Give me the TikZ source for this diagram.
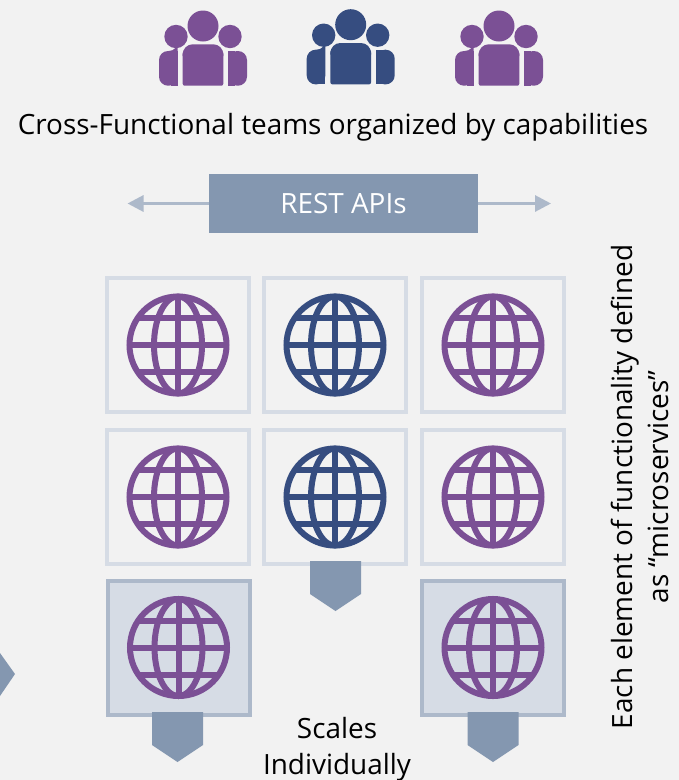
\documentclass[tikz,border=0pt]{standalone}
\usepackage{fontspec}
\setmainfont{Open Sans}
\definecolor{bgcol}{HTML}{F2F2F2}
\definecolor{purplecol}{HTML}{7B5095}
\definecolor{navycol}{HTML}{364D80}
\definecolor{slatecol}{HTML}{8497B0}
\definecolor{paleslate}{HTML}{ADB9CA}
\definecolor{palecol}{HTML}{D6DCE5}
\usetikzlibrary{arrows.meta}
\tikzset{
    cellbox/.style={draw=palecol, line width=4pt, minimum width=142pt, minimum height=134pt, inner sep=0pt},
    scaledbox/.style={cellbox, draw=paleslate, fill=palecol},
    restbox/.style={fill=slatecol, text=white, minimum width=269pt, minimum height=59pt, inner sep=0pt, font=\fontsize{27.9}{33}\selectfont},
    restline/.style={draw=paleslate, line width=3pt, -{Triangle[length=16pt, width=16pt]}},
    caption/.style={font=\fontsize{27.9}{35.5}\selectfont, align=center, inner sep=0pt},
    pics/globe/.style={code={
        \draw[#1, line width=6pt] (0,0) circle (48.5);
        \draw[#1, line width=6pt] (0,0) ellipse (24 and 48.5);
        \draw[#1, line width=6pt] (0,-48.5)--(0,48.5);
        \draw[#1, line width=6pt] (-48.5,0)--(48.5,0);
        \draw[#1, line width=6pt] (-40,-27)--(40,-27);
        \draw[#1, line width=6pt] (-40,27)--(40,27);
    }},
    pics/team/.style={code={
        \fill[#1] (0,0) circle (15.5);
        \fill[#1] (-27,10.5) circle (11.7);
        \fill[#1] (27,10.5) circle (11.7);
        \fill[#1, rounded corners=10pt] (-20.3,30)--(-20.3,18.3)--(20.3,18.3)--(20.3,30);
        \fill[#1, rounded corners=2pt] (-20.3,25)--(-20.3,59.7)--(20.3,59.7)--(20.3,25)--cycle;
        \fill[#1, rounded corners=9pt] (-25.3,25)--(-25.3,25)--(-44,25)--(-44,59.7)--(-25.3,59.7)--cycle;
        \fill[#1, rounded corners=9pt] (25.3,25)--(44,25)--(44,59.7)--(25.3,59.7)--cycle;
        \fill[#1] (-25.3,25) rectangle (-32,59.7);
        \fill[#1] (25.3,25) rectangle (32,59.7);
    }},
}
\newcommand{\scalearrow}[3]{\fill[slatecol] (#1-25.5,#2)--(#1+25.5,#2)--(#1+25.5,#3-17)--(#1,#3)--(#1-25.5,#3-17)--cycle;}
\begin{document}
\begin{tikzpicture}[x=1pt, y=-1pt]
    \fill[bgcol] (0,0) rectangle (679,780);
    \useasboundingbox (0,0) rectangle (679,780);

    % teams
    \pic at (203,26) {team=purplecol};
    \pic at (350.7,24.7) {team=navycol};
    \pic at (499,26) {team=purplecol};
    \node[caption] (teams) at (333,127) {Cross-Functional teams organized by capabilities};

    % apis
    \node[restbox] (rest) at (343.5,203.5) {REST APIs};
    \coordinate (restl) at (127.5,203.5);
    \coordinate (restr) at (551,203.5);
    \draw[restline] (rest)--(restl);
    \draw[restline] (rest)--(restr);

    % services
    \node[cellbox] (c11) at (178,345) {};
    \node[cellbox] (c12) at (335,345) {};
    \node[cellbox] (c13) at (493,345) {};
    \node[cellbox] (c21) at (178,497) {};
    \node[cellbox] (c22) at (335,497) {};
    \node[cellbox] (c23) at (493,497) {};
    \node[scaledbox] (c31) at (178.5,647.5) {};
    \node[scaledbox] (c33) at (493,647.5) {};
    \pic at (c11) {globe=purplecol};
    \pic at (c12) {globe=navycol};
    \pic at (c13) {globe=purplecol};
    \pic at (c21) {globe=purplecol};
    \pic at (c22) {globe=navycol};
    \pic at (c23) {globe=purplecol};
    \pic at (c31) {globe=purplecol};
    \pic at (c33) {globe=purplecol};

    % scaling
    \scalearrow{335.5}{561}{611}
    \scalearrow{177.5}{712}{762}
    \scalearrow{493}{712}{762}
    \fill[slatecol] (0,653)--(15,674)--(0,696)--cycle;
    \node[caption] (scales) at (337,749) {Scales\\Individually};
    \node[caption, rotate=90] (each) at (640,487) {Each element of functionality defined\\as ``microservices''};
\end{tikzpicture}
\end{document}
